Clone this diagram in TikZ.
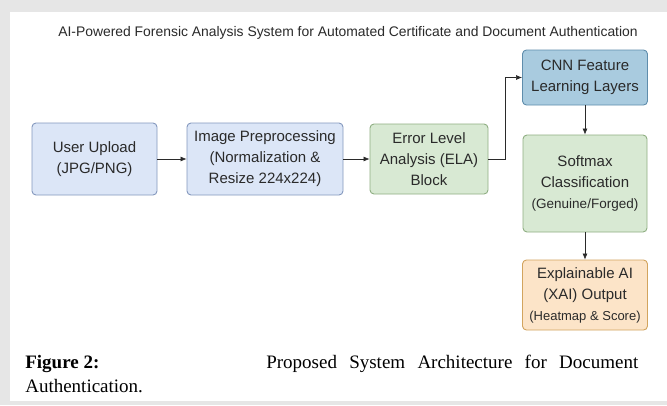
\documentclass[tikz,border=0pt]{standalone}
\usepackage{fontspec}
\setmainfont{Liberation Serif}
\setsansfont{Liberation Sans}
\usetikzlibrary{arrows.meta,positioning}

\definecolor{inputfill}{HTML}{DCE6F7}
\definecolor{inputline}{HTML}{8498BE}
\definecolor{cnnfill}{HTML}{A9CBDF}
\definecolor{cnnline}{HTML}{5F8DAC}
\definecolor{elafill}{HTML}{D8E9D3}
\definecolor{elaline}{HTML}{8FAE82}
\definecolor{xaifill}{HTML}{FCE4C8}
\definecolor{xailine}{HTML}{D2A45E}
\definecolor{inkgray}{HTML}{2A2A2A}
\definecolor{pagegray}{HTML}{E6E6E6}

\begin{document}
\begin{tikzpicture}[x=1pt,y=-1pt,
    ->,>={Latex[length=6pt,width=5pt]},semithick,draw=inkgray,
    node distance=2cm,on grid,
    block/.style={rectangle,rounded corners=4pt,draw,line width=0.9pt,
      align=center,inner sep=2pt,text=inkgray,
      font=\sffamily\fontsize{15}{21}\selectfont},
    inputbox/.style={block,fill=inputfill,draw=inputline},
    cnnbox/.style={block,fill=cnnfill,draw=cnnline},
    elabox/.style={block,fill=elafill,draw=elaline},
    xaibox/.style={block,fill=xaifill,draw=xailine}]
    % page and panel
    \useasboundingbox (0,0) rectangle (667,405);
    \fill[pagegray] (0,0) rectangle (667,405);
    \fill[white] (10,12) rectangle (667,401);

    \node[text=inkgray,font=\sffamily\fontsize{13.9}{16}\selectfont]
        (title) at (348,33)
        {AI-Powered Forensic Analysis System for Automated Certificate and Document Authentication};

    \node[inputbox,minimum width=125pt,minimum height=72pt] (upload) at (94.5,159)
        {User Upload\\(JPG/PNG)};
    \node[inputbox,minimum width=156pt,minimum height=72pt] (prep) [right=170.5pt of upload]
        {Image Preprocessing\\(Normalization \&\\Resize 224x224)};
    \node[elabox,minimum width=118pt,minimum height=70pt] (ela) [right=164pt of prep]
        {Error Level\\Analysis (ELA)\\Block};
    \node[elabox,minimum width=124pt,minimum height=97pt] (softmax) at (585,183.5)
        {Softmax\\Classification\\{\fontsize{13.5}{18}\selectfont(Genuine/Forged)}};
    \node[cnnbox,minimum width=125pt,minimum height=55pt] (cnn) [above=106pt of softmax]
        {CNN Feature\\Learning Layers};
    \node[xaibox,minimum width=125pt,minimum height=70pt] (xai) [below=111.5pt of softmax]
        {Explainable AI\\(XAI) Output\\{\fontsize{13}{18}\selectfont(Heatmap \& Score)}};

    \path (upload) edge (prep)
          (prep)   edge (ela)
          (cnn)    edge (softmax)
          (softmax) edge (xai);
    \draw (ela.east) -- ++(17,0) |- (cnn.west);

    % caption under the figure
    \node[anchor=base west,inner sep=0pt,font=\fontsize{19}{24}\selectfont\bfseries]
        (figno) at (25,368) {Figure 2:};
    \node[anchor=base west,inner sep=0pt,font=\fontsize{19}{24}\selectfont]
        (capline) at (266,368) {\makebox[372pt][s]{Proposed System Architecture for Document}};
    \node[anchor=base west,inner sep=0pt,font=\fontsize{19}{24}\selectfont]
        (capend) at (25,392) {Authentication.};
\end{tikzpicture}
\end{document}
